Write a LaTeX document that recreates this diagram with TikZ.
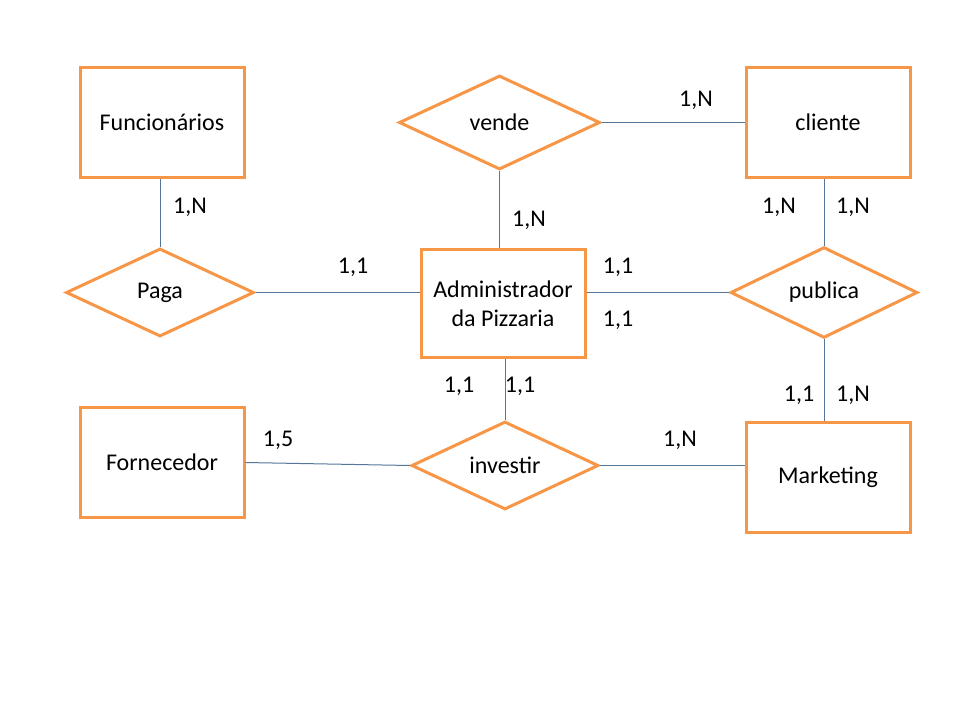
\documentclass[tikz,border=0pt]{standalone}
\usepackage{fontspec}
\setmainfont{Carlito}
\usetikzlibrary{shapes.geometric}
\definecolor{erorange}{HTML}{F79646}
\definecolor{erline}{HTML}{557799}
\tikzset{
  entity/.style={draw=erorange, line width=3pt, fill=white, rectangle, inner sep=0pt, minimum width=164pt, minimum height=110pt, align=center, font=\fontsize{24}{29}\selectfont},
  relation/.style={draw=erorange, line width=3pt, fill=white, diamond, inner sep=0pt, font=\fontsize{24}{29}\selectfont},
  conn/.style={draw=erline, line width=1pt},
  card/.style={font=\fontsize{24}{29}\selectfont, inner sep=0pt}
}
\begin{document}
\begin{tikzpicture}[x=1pt,y=-1pt]
\useasboundingbox[fill=white] (0,0) rectangle (960,720);
% entities
\node[entity] (fun) at (162,122.5) {Funcionários};
\node[entity] (cli) at (828,122.5) {cliente};
\node[entity, minimum height=108pt] (adm) at (503,303.5) {Administrador\\da Pizzaria};
\node[entity] (forn) at (162,462.5) {Fornecedor};
\node[entity] (mkt) at (828,477) {Marketing};
% relationships
\node[relation, minimum width=201pt, minimum height=94pt] (vende) at (499.5,122.5) {vende};
\node[relation, minimum width=188pt, minimum height=88pt] (paga) at (160,292.5) {Paga};
\node[relation, minimum width=187pt, minimum height=86pt] (pub) at (824,292.5) {publica};
\node[relation, minimum width=187pt, minimum height=88pt] (inv) at (505,465.5) {investir};
% connectors
\draw[conn] (paga.north |- fun.south) -- (paga.north);
\draw[conn] (vende.south) -- (vende.south |- adm.north);
\draw[conn] (vende.east) -- (vende.east -| cli.west);
\draw[conn] (paga.east) -- (paga.east -| adm.west);
\draw[conn] (adm.east |- pub.west) -- (pub.west);
\draw[conn] (cli.south -| pub.north) -- (pub.north);
\draw[conn] (pub.south) -- (pub.south |- mkt.north);
\draw[conn] (inv.north |- adm.south) -- (inv.north);
\draw[conn] (forn.east) -- (inv.west);
\draw[conn] (inv.east) -- (inv.east -| mkt.west);
% cardinalities
\node[card] (c1) at (190,207) {1,N};
\node[card] (c2) at (529,220) {1,N};
\node[card] (c3) at (696,100) {1,N};
\node[card] (c4) at (353,267) {1,1};
\node[card] (c5) at (618,267) {1,1};
\node[card] (c6) at (618,320) {1,1};
\node[card] (c7) at (779,207) {1,N};
\node[card] (c8) at (853,207) {1,N};
\node[card] (c9) at (459,386) {1,1};
\node[card] (c10) at (520,386) {1,1};
\node[card] (c11) at (799,395) {1,1};
\node[card] (c12) at (853,395) {1,N};
\node[card] (c13) at (278,440) {1,5};
\node[card] (c14) at (680,440) {1,N};
\end{tikzpicture}
\end{document}
